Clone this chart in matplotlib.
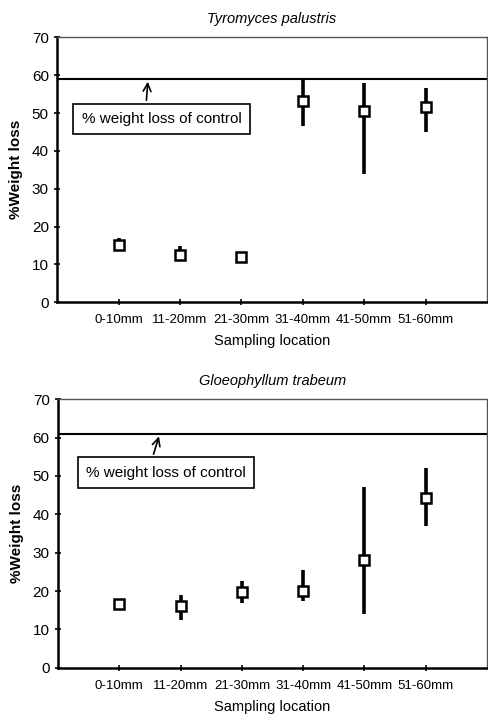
import matplotlib.pyplot as plt
import numpy as np

plt.rcParams['font.family'] = ['Liberation Sans', 'DejaVu Sans']

# Sampling locations
locations = ['0-10mm', '11-20mm', '21-30mm', '31-40mm', '41-50mm', '51-60mm']

# Tyromyces palustris: mean % weight loss and error bar limits
tp_mean = [15.2, 12.5, 12.0, 53.3, 50.5, 51.5]
tp_low = [14.0, 11.0, 11.3, 46.5, 34.0, 45.0]
tp_high = [17.0, 15.0, 12.8, 59.0, 58.0, 56.5]
tp_control = 59.0

# Gloeophyllum trabeum
gt_mean = [16.7, 16.0, 19.7, 20.0, 28.0, 44.2]
gt_low = [15.5, 12.5, 17.0, 17.5, 14.0, 37.0]
gt_high = [18.0, 19.0, 22.5, 25.5, 47.0, 52.0]
gt_control = 61.0

fig = plt.figure(figsize=(4.88, 7.18), dpi=100)
ax1 = fig.add_axes([0.117, 0.579, 0.881, 0.369])
ax2 = fig.add_axes([0.119, 0.070, 0.879, 0.374])

panels = [
    (ax1, 'Tyromyces palustris', tp_mean, tp_low, tp_high, tp_control, (0.48, 0.70, 48.4)),
    (ax2, 'Gloeophyllum trabeum', gt_mean, gt_low, gt_high, gt_control, (0.66, 0.76, 50.8)),
]

x = np.arange(len(locations))
for ax, title, mean, low, high, control, (tip_x, box_x, box_y) in panels:
    mean = np.array(mean)
    yerr = [mean - np.array(low), np.array(high) - mean]
    ax.errorbar(x, mean, yerr=yerr, fmt='none', ecolor='black', elinewidth=2.6, capsize=0)
    ax.plot(x, mean, linestyle='none', marker='s', markersize=7,
            markerfacecolor='white', markeredgecolor='black', markeredgewidth=1.8)
    ax.axhline(control, color='black', linewidth=1.5)

    ax.annotate('% weight loss of control', xy=(tip_x, control), xytext=(box_x, box_y),
                ha='center', va='center', fontsize=11,
                bbox=dict(boxstyle='square,pad=0.55', facecolor='white', edgecolor='black', linewidth=1.2),
                arrowprops=dict(arrowstyle='->', color='black', linewidth=1.2, mutation_scale=14,
                                relpos=(0.4, 1.0)))

    ax.set_xlim(-1, 6)
    ax.set_ylim(0, 70)
    ax.set_yticks(np.arange(0, 71, 10))
    ax.set_xticks(x)
    ax.set_xticklabels(locations, fontsize=9.5)
    ax.tick_params(axis='y', labelsize=11, direction='inout', length=5, width=1.2)
    ax.tick_params(axis='x', direction='inout', length=5, width=1.2, pad=6)
    ax.set_ylabel('%Weight loss', fontsize=11, fontweight='bold', labelpad=6)
    ax.set_xlabel('Sampling location', fontsize=10.5, labelpad=6)
    ax.set_title(title, fontsize=10.5, style='italic', pad=10)
    for side in ['left', 'bottom']:
        ax.spines[side].set_linewidth(1.8)
    for side in ['top', 'right']:
        ax.spines[side].set_linewidth(1.0)
        ax.spines[side].set_color('#555555')

plt.savefig('out.png', dpi=100)
